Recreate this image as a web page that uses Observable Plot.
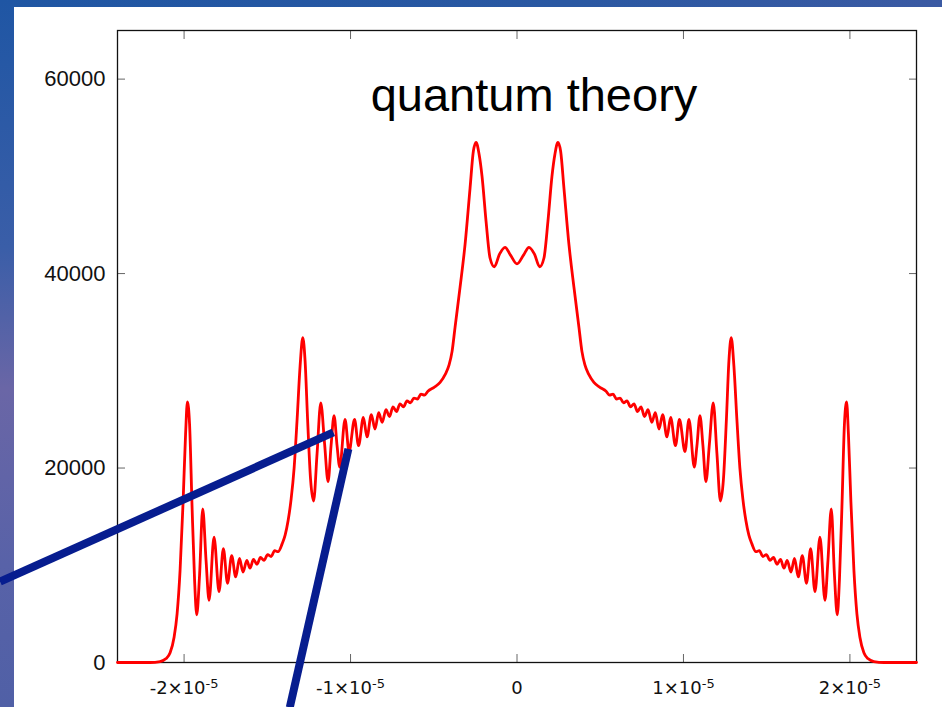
<!DOCTYPE html>
<html><head><meta charset="utf-8">
<script src="https://cdn.jsdelivr.net/npm/d3@7"></script>
<script src="https://cdn.jsdelivr.net/npm/@observablehq/plot@0.6"></script>
<style>
html,body{margin:0;padding:0;width:942px;height:707px;overflow:hidden;}
body{position:relative;background:linear-gradient(90deg,#1f56a3 0%,#2a58a2 60%,#3b5aa3 100%);}
#strip{position:absolute;left:0;top:0;width:14px;height:707px;background:linear-gradient(180deg,#1f56a4 0%,#3a5ea8 35%,#6a66a6 55%,#5862a8 80%,#5060a6 100%);}
#panel{position:absolute;left:14px;top:7px;right:0;bottom:0;background:#fff;}
#chart{position:absolute;left:0;top:0;}
</style></head>
<body><div id="strip"></div><div id="panel"></div><div id="chart"></div>
<script>
// position in units of 1e-5, intensity in counts
const position = [
 -2.40, -2.204, -2.144, -2.108, -2.084, -2.060, -2.042, -2.024, -2.006, -1.991,
 -1.980, -1.967, -1.952, -1.937, -1.924, -1.907, -1.888, -1.868, -1.850, -1.820,
 -1.790, -1.764, -1.739, -1.714, -1.690, -1.667, -1.646, -1.623, -1.604, -1.583,
 -1.562, -1.541, -1.520, -1.498, -1.477, -1.456, -1.435, -1.411, -1.393, -1.375,
 -1.357, -1.339, -1.321, -1.303, -1.287, -1.273, -1.258, -1.240, -1.222, -1.201,
 -1.179, -1.156, -1.135, -1.117, -1.099, -1.081, -1.065, -1.033, -1.009, -0.976,
 -0.952, -0.923, -0.901, -0.875, -0.853, -0.831, -0.810, -0.787, -0.766, -0.745,
 -0.724, -0.703, -0.682, -0.661, -0.640, -0.619, -0.598, -0.577, -0.556, -0.535,
 -0.498, -0.462, -0.432, -0.408, -0.390, -0.372, -0.342, -0.312, -0.282, -0.262,
 -0.246, -0.228, -0.210, -0.186, -0.162, -0.136, -0.105, -0.072, -0.039, 0,
 0.039, 0.072, 0.105, 0.136, 0.162, 0.186, 0.210, 0.228, 0.246, 0.262,
 0.282, 0.312, 0.342, 0.372, 0.390, 0.408, 0.432, 0.462, 0.498, 0.535,
 0.556, 0.577, 0.598, 0.619, 0.640, 0.661, 0.682, 0.703, 0.724, 0.745,
 0.766, 0.787, 0.810, 0.831, 0.853, 0.875, 0.901, 0.923, 0.952, 0.976,
 1.009, 1.033, 1.065, 1.081, 1.099, 1.117, 1.135, 1.156, 1.179, 1.201,
 1.222, 1.240, 1.258, 1.273, 1.287, 1.303, 1.321, 1.339, 1.357, 1.375,
 1.393, 1.411, 1.435, 1.456, 1.477, 1.498, 1.520, 1.541, 1.562, 1.583,
 1.604, 1.623, 1.646, 1.667, 1.690, 1.714, 1.739, 1.764, 1.790, 1.820,
 1.850, 1.868, 1.888, 1.907, 1.924, 1.937, 1.952, 1.967, 1.980, 1.991,
 2.006, 2.024, 2.042, 2.060, 2.084, 2.108, 2.144, 2.204, 2.40
];
const intensity = [
 0, 0, 100, 400, 1000, 2600, 5000, 9500, 16500, 23500,
 26800, 24500, 16000, 8500, 4900, 9000, 15800, 10500, 6400, 12900,
 7300, 11700, 8150, 11000, 8800, 10700, 9300, 10500, 9700, 10600,
 10100, 10800, 10500, 11100, 10900, 11500, 11400, 12200, 13100, 14600,
 16800, 20000, 25000, 30500, 33400, 31000, 25000, 18800, 16600, 21500,
 26700, 22500, 18600, 22300, 25400, 22300, 20100, 25000, 21700, 25000,
 22300, 25200, 23200, 25500, 24000, 25700, 24700, 26000, 25300, 26300,
 25800, 26600, 26300, 26900, 26700, 27200, 27100, 27600, 27500, 27900,
 28300, 28800, 29600, 30600, 32000, 34500, 38600, 43000, 48800, 52600,
 53500, 52300, 50000, 45400, 41600, 40700, 42000, 42700, 41900, 41000,
 41900, 42700, 42000, 40700, 41600, 45400, 50000, 52300, 53500, 52600,
 48800, 43000, 38600, 34500, 32000, 30600, 29600, 28800, 28300, 27900,
 27500, 27600, 27100, 27200, 26700, 26900, 26300, 26600, 25800, 26300,
 25300, 26000, 24700, 25700, 24000, 25500, 23200, 25200, 22300, 25000,
 21700, 25000, 20100, 22300, 25400, 22300, 18600, 22500, 26700, 21500,
 16600, 18800, 25000, 31000, 33400, 30500, 25000, 20000, 16800, 14600,
 13100, 12200, 11400, 11500, 10900, 11100, 10500, 10800, 10100, 10600,
 9700, 10500, 9300, 10700, 8800, 11000, 8150, 11700, 7300, 12900,
 6400, 10500, 15800, 9000, 4900, 8500, 16000, 24500, 26800, 23500,
 16500, 9500, 5000, 2600, 1000, 400, 100, 0, 0
];
const xTicks = [-2, -1, 0, 1, 2];
const yTicks = [0, 20000, 40000, 60000];
const titleText = ["quantum theory"];
// annotation pointer lines (start / end in data units)
const pointerX1 = [-3.105, -1.013];
const pointerY1 = [8320, 21960];
const pointerX2 = [-1.103, -1.365];
const pointerY2 = [23660, -4620];

const curve = position.map((x, i) => ({x, y: intensity[i]}));
const pointers = pointerX1.map((x1, i) => ({x1, y1: pointerY1[i], x2: pointerX2[i], y2: pointerY2[i]}));
const fmtX = d => d === 0 ? "0" : `${d}×10^-5`;
const fmtY = d => String(d);

const chart = Plot.plot({
  width: 942, height: 707,
  marginLeft: 117, marginRight: 26, marginTop: 30, marginBottom: 45,
  style: {background: "transparent", fontFamily: "'Liberation Sans', Arial, sans-serif", overflow: "visible"},
  x: {domain: [-2.4, 2.4]},
  y: {domain: [0, 65000]},
  marks: [
    Plot.axisX(xTicks, {anchor: "bottom", tickSize: 0, tickPadding: 19, tickFormat: fmtX, fontSize: 18, label: null, fill: "#111", fontFamily: "'DejaVu Sans', sans-serif"}),
    Plot.axisY(yTicks, {anchor: "left", tickSize: 0, tickPadding: 12, tickFormat: fmtY, fontSize: 22, label: null, fill: "#111"}),
    Plot.axisX(xTicks, {anchor: "bottom", tickSize: 8, inset: 8, fill: "none", stroke: "#666", label: null}),
    Plot.axisX(xTicks, {anchor: "top", tickSize: 8, inset: 8, fill: "none", stroke: "#666", label: null}),
    Plot.axisY(yTicks, {anchor: "left", tickSize: 8, inset: 8, fill: "none", stroke: "#666", label: null}),
    Plot.axisY(yTicks, {anchor: "right", tickSize: 8, inset: 8, fill: "none", stroke: "#666", label: null}),
    Plot.frame({stroke: "#111", strokeWidth: 1.3}),
    Plot.line(curve, {x: "x", y: "y", stroke: "#ff0000", strokeWidth: 2.8, curve: "monotone-x"}),
    Plot.text(titleText, {frameAnchor: "top", dx: 17, dy: 47, fontSize: 47, fill: "#000"}),
    Plot.link(pointers, {x1: "x1", y1: "y1", x2: "x2", y2: "y2", stroke: "#071d8f", strokeWidth: 8, strokeLinecap: "butt"})
  ]
});
// render the exponent as a raised superscript
chart.querySelectorAll("text").forEach(t => {
  const s = t.textContent;
  const i = s.indexOf("^");
  if (i >= 0) {
    const base = s.slice(0, i), exp = s.slice(i + 1);
    t.textContent = "";
    t.appendChild(document.createTextNode(base));
    const sup = document.createElementNS("http://www.w3.org/2000/svg", "tspan");
    sup.setAttribute("dy", "-0.45em");
    sup.setAttribute("font-size", "13");
    sup.textContent = exp;
    t.appendChild(sup);
  }
});
document.getElementById("chart").appendChild(chart);
</script></body></html>
